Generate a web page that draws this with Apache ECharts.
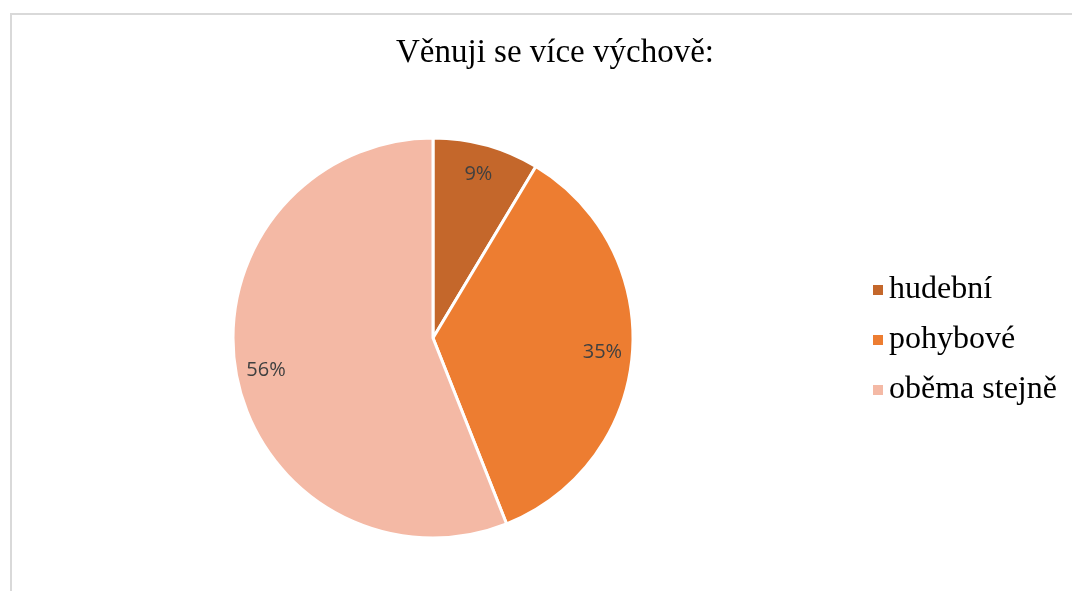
<!DOCTYPE html>
<html>
<head>
<meta charset="utf-8">
<script src="https://cdn.jsdelivr.net/npm/echarts@6/dist/echarts.min.js"></script>
<style>
html,body{margin:0;padding:0;background:#fff;}
#frame{position:absolute;left:10px;top:13px;width:1080px;height:600px;border-top:2px solid #d9d9d9;border-left:2px solid #d9d9d9;box-sizing:border-box;}
#chart{position:absolute;left:0;top:0;width:1072px;height:591px;}
</style>
</head>
<body>
<div id="frame"></div>
<div id="chart"></div>
<script>
// data (podíly v %)
var categories = ['hudební', 'pohybové', 'oběma stejně'];
var values = [8.6, 35.4, 56.0];
var colors = ['#c4672b', '#ed7d31', '#f4b9a5'];

var chart = echarts.init(document.getElementById('chart'));

var pieData = [];
var labelData = [];
for (var i = 0; i < categories.length; i++) {
	pieData.push({name: categories[i], value: values[i], itemStyle: {color: colors[i]}});
	labelData.push({name: categories[i], value: values[i]});
}

var option = {
	animation: false,
	title: {
		text: 'Věnuji se více výchově:',
		left: 396,
		top: 37,
		padding: 0,
		textStyle: {fontFamily: 'Liberation Serif', fontSize: 33, fontWeight: 'normal', color: '#000'}
	},
	legend: {
		orient: 'vertical',
		left: 871,
		top: 272,
		padding: 0,
		icon: 'rect',
		itemWidth: 12,
		itemHeight: 12,
		itemGap: 14,
		data: categories,
		textStyle: {fontFamily: 'Liberation Serif', fontSize: 32, color: '#000', lineHeight: 36}
	},
	series: [
		{
			type: 'pie',
			center: [433, 338],
			radius: [0, 200],
			startAngle: 90,
			clockwise: true,
			label: {show: false},
			labelLine: {show: false},
			itemStyle: {borderColor: '#fff', borderWidth: 3},
			emphasis: {disabled: true},
			data: pieData
		},
		{
			// jen popisky, posunuté blíž k okraji
			type: 'pie',
			center: [433, 338],
			radius: [134, 200],
			startAngle: 90,
			silent: true,
			itemStyle: {color: 'transparent'},
			label: {
				show: true,
				position: 'inside',
				formatter: function (p) { return Math.round(p.value) + '%'; },
				fontFamily: 'Open Sans',
				fontSize: 20,
				color: '#404040'
			},
			labelLine: {show: false},
			data: labelData
		}
	]
};
chart.setOption(option);
</script>
</body>
</html>
